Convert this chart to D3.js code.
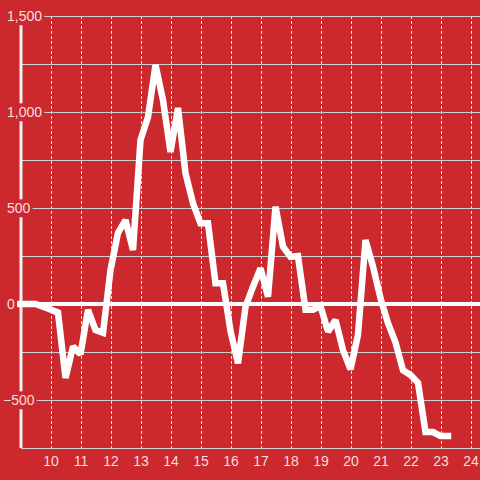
<!DOCTYPE html>
<html>
<head>
<meta charset="utf-8">
<script src="https://cdn.jsdelivr.net/npm/d3@7"></script>
<style>
html, body { margin: 0; padding: 0; background: #cc292e; }
svg { display: block; }
text { font-family: "Liberation Sans", Arial, sans-serif; }
</style>
</head>
<body>
<div id="chart"></div>
<script>
// ---- data ----
const xValues = [
  9.00, 9.25, 9.50, 9.75, 10.00, 10.25, 10.50, 10.75, 11.00, 11.25, 11.50, 11.75,
  12.00, 12.25, 12.50, 12.75, 13.00, 13.25, 13.50, 13.75, 14.00, 14.25, 14.50, 14.75,
  15.00, 15.25, 15.50, 15.75, 16.00, 16.25, 16.50, 16.75, 17.00, 17.25, 17.50, 17.75,
  18.00, 18.25, 18.50, 18.75, 19.00, 19.25, 19.50, 19.75, 20.00, 20.25, 20.50, 20.75,
  21.00, 21.25, 21.50, 21.75, 22.00, 22.25, 22.50, 22.75, 23.00, 23.25
];
const seriesValues = [
  0, 0, 0, -14, -29, -45, -385, -222, -262, -30, -135, -150,
  177, 370, 437, 281, 854, 974, 1245, 1062, 792, 1021, 681, 524,
  420, 420, 108, 108, -140, -309, -14, 90, 186, 38, 507, 299,
  246, 250, -30, -30, -10, -144, -83, -240, -340, -160, 333, 195,
  30, -100, -200, -345, -370, -410, -667, -667, -688, -688
];
const xTicks = [10, 11, 12, 13, 14, 15, 16, 17, 18, 19, 20, 21, 22, 23, 24];
const yLabelTicks = [1500, 1000, 500, 0, -500];
const yGridTicks = [1500, 1250, 1000, 750, 500, 250, -250, -500, -750];

// ---- drawing ----
const W = 480, H = 480;
const BG = "#cc292e";
const svg = d3.select("#chart").append("svg").attr("width", W).attr("height", H);
svg.append("rect").attr("width", W).attr("height", H).attr("fill", BG);

const x = d3.scaleLinear().domain([9, 25]).range([20.5, 500.5]);
const y = d3.scaleLinear().domain([-750, 1500]).range([448, 16]);

// vertical dashed grid
svg.append("g").selectAll("line").data(xTicks).join("line")
  .attr("x1", d => Math.round(x(d)) + 0.5).attr("x2", d => Math.round(x(d)) + 0.5)
  .attr("y1", y(1500)).attr("y2", y(-750))
  .attr("stroke", "#e6e6e6").attr("stroke-width", 1)
  .attr("stroke-dasharray", "3,2");

// horizontal grid
svg.append("g").selectAll("line").data(yGridTicks).join("line")
  .attr("x1", 21).attr("x2", W)
  .attr("y1", d => Math.round(y(d)) + 0.5).attr("y2", d => Math.round(y(d)) + 0.5)
  .attr("stroke", "#cfcfcf").attr("stroke-width", 1);

// y axis line
svg.append("line")
  .attr("x1", 21).attr("x2", 21)
  .attr("y1", y(1500)).attr("y2", y(-750))
  .attr("stroke", "#f2f2f2").attr("stroke-width", 3);

// zero line
svg.append("line")
  .attr("x1", 17).attr("x2", W)
  .attr("y1", y(0)).attr("y2", y(0))
  .attr("stroke", "#ffffff").attr("stroke-width", 4);

// y labels with background boxes
const yl = svg.append("g").selectAll("g").data(yLabelTicks).join("g");
yl.append("text")
  .attr("x", d => d < 0 ? 3 : 7)
  .attr("y", d => y(d))
  .attr("dy", "0.38em")
  .attr("font-size", 14)
  .attr("fill", "rgba(255,255,255,0.85)")
  .text(d => d3.format(",")(d))
  .each(function () {
    const b = this.getBBox();
    d3.select(this.parentNode).insert("rect", "text")
      .attr("x", b.x - 1).attr("y", b.y - 1)
      .attr("width", b.width + 3).attr("height", b.height + 2)
      .attr("fill", BG);
  });

// x labels
svg.append("g").selectAll("text").data(xTicks).join("text")
  .attr("x", d => x(d) + 0.5)
  .attr("y", 466)
  .attr("text-anchor", "middle")
  .attr("font-size", 14)
  .attr("fill", "rgba(255,255,255,0.85)")
  .text(d => d);

// data line
const pts = xValues.map((v, i) => [v, seriesValues[i]]);
svg.append("path")
  .datum(pts)
  .attr("d", d3.line().x(d => x(d[0])).y(d => y(d[1])))
  .attr("fill", "none")
  .attr("stroke", "#ffffff")
  .attr("stroke-width", 6.5)
  .attr("stroke-linecap", "square")
  .attr("stroke-miterlimit", 2);
</script>
</body>
</html>
